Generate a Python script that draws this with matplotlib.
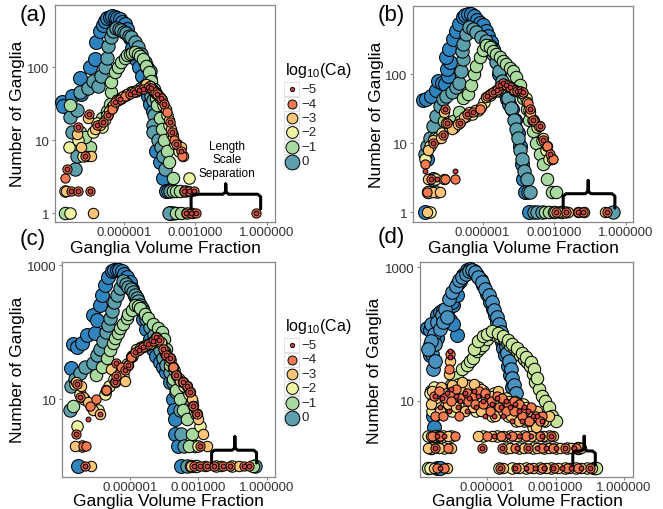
import matplotlib.pyplot as plt
from matplotlib.patches import Rectangle

plt.rcParams['font.family'] = ['Liberation Sans', 'DejaVu Sans']
plt.rcParams['mathtext.fontset'] = 'custom'
plt.rcParams['mathtext.rm'] = 'Liberation Sans'
plt.rcParams['mathtext.it'] = 'Liberation Sans:italic'

# legend entries, log10(Ca)
ca_levels = [-5, -4, -3, -2, -1, 0]
ca_labels = ['\u22125', '\u22124', '\u22123', '\u22122', '\u22121', '0']

x_ticks = [1e-6, 1e-3, 1.0]
x_tick_labels = ['0.000001', '0.001000', '1.000000']

# every series: (log10 ganglia volume fraction, number of ganglia)
# ---- panel (a)
a_dblue = [(-8.6, 33), (-8.53, 29), (-8.18, 40), (-7.77, 43), (-7.49, 55), (-7.84, 72), (-7.42, 100),
           (-7.21, 130), (-7.14, 220), (-7.0, 315), (-6.88, 380), (-6.79, 430), (-6.68, 470), (-6.58, 490),
           (-6.48, 495), (-6.38, 490), (-6.27, 475), (-6.17, 455), (-6.06, 420), (-5.96, 390), (-5.85, 330),
           (-5.75, 250), (-5.65, 180), (-5.5, 130), (-5.35, 100), (-5.22, 75), (-5.1, 55), (-4.98, 40),
           (-4.9, 31), (-4.78, 25), (-4.64, 20), (-4.5, 16), (-4.6, 12), (-4.64, 7), (-4.5, 5), (-4.36, 3),
           (-4.22, 2), (-4.05, 1)]
a_teal = [(-8.04, 4), (-7.97, 6), (-8.18, 13), (-8.25, 21), (-7.97, 26), (-7.84, 45), (-7.49, 52),
          (-7.28, 65), (-7.07, 55), (-6.93, 76), (-6.8, 100), (-6.72, 135), (-6.65, 195), (-6.54, 255),
          (-6.45, 315), (-6.31, 340), (-6.2, 335), (-6.1, 320), (-6.0, 305), (-5.89, 290), (-5.78, 270),
          (-5.68, 255), (-5.54, 218), (-5.4, 186), (-5.27, 151), (-5.13, 116), (-5.02, 100), (-4.92, 89),
          (-4.88, 70), (-4.82, 50), (-4.85, 40), (-4.78, 35), (-4.72, 22), (-4.79, 16), (-4.79, 13),
          (-4.57, 10), (-4.43, 8), (-4.36, 6), (-4.29, 4), (-4.15, 2), (-4.05, 2), (-3.95, 1), (-4.1, 1)]
a_green = [(-8.46, 1), (-8.25, 30), (-7.84, 13), (-7.42, 8), (-7.6, 11), (-6.9, 20), (-6.72, 25),
           (-6.58, 31), (-6.52, 45), (-6.52, 62), (-6.38, 85), (-6.24, 100), (-6.1, 116), (-5.96, 135),
           (-5.85, 145), (-5.75, 150), (-5.64, 155), (-5.54, 160), (-5.4, 150), (-5.3, 140), (-5.2, 130),
           (-5.06, 105), (-4.95, 85), (-4.85, 65), (-4.75, 50), (-4.65, 38), (-4.6, 30), (-4.5, 20),
           (-4.4, 14), (-4.3, 10), (-4.2, 7), (-4.1, 5), (-3.95, 3), (-3.95, 2), (-3.8, 2), (-3.65, 2),
           (-3.8, 1), (-3.6, 1)]
a_yellow = [(-8.25, 1), (-8.46, 2), (-8.3, 8), (-7.9, 10), (-7.7, 6), (-7.3, 13), (-7.1, 17), (-6.9, 15),
            (-6.7, 22), (-6.5, 28), (-6.3, 35), (-6.1, 38), (-5.9, 42), (-5.7, 45), (-5.5, 47), (-5.3, 52),
            (-5.1, 55), (-4.95, 56), (-4.8, 50), (-4.65, 44), (-4.5, 38), (-4.35, 30), (-4.2, 22), (-4.1, 16),
            (-4.0, 12), (-3.85, 9), (-3.7, 7), (-3.25, 3), (-3.45, 2), (-3.35, 1)]
a_lorange = [(-7.28, 1), (-8.4, 2), (-7.95, 12), (-7.8, 8), (-7.55, 6), (-7.35, 6), (-7.5, 20), (-7.2, 14),
             (-7.0, 16), (-6.8, 19), (-6.6, 25), (-6.45, 30), (-6.25, 36), (-6.05, 40), (-5.85, 43),
             (-5.65, 45), (-5.45, 48), (-5.25, 52), (-5.05, 58), (-4.9, 55), (-4.72, 47), (-4.55, 42),
             (-4.4, 35), (-4.25, 27), (-4.12, 19), (-4.02, 14), (-3.92, 11), (-3.75, 9), (-3.6, 8),
             (-3.5, 6), (-3.3, 2), (-3.15, 1)]
a_orange = [(-8.39, 4), (-8.46, 3), (-8.2, 2), (-7.9, 2), (-7.4, 2), (-7.9, 15), (-7.6, 6), (-7.45, 23),
            (-7.1, 16), (-6.85, 18), (-6.65, 22), (-6.5, 27), (-6.35, 33), (-6.15, 37), (-5.95, 40),
            (-5.75, 43), (-5.55, 46), (-5.35, 49), (-5.2, 50), (-5.0, 54), (-4.85, 52), (-4.7, 46),
            (-4.6, 43), (-4.45, 38), (-4.3, 31), (-4.18, 24), (-4.08, 18), (-3.97, 13), (-3.88, 10),
            (-3.8, 9), (-3.62, 7), (-3.55, 6), (-3.46, 2), (-3.25, 2), (-3.04, 2), (-3.39, 1), (-3.18, 1),
            (-2.97, 1), (-0.47, 1)]
a_red = [(-8.39, 4), (-8.2, 2), (-7.9, 2), (-7.4, 2), (-7.9, 15), (-7.45, 23), (-7.6, 6), (-7.1, 16),
         (-6.85, 18), (-6.65, 22), (-6.35, 33), (-6.15, 37), (-5.75, 43), (-5.55, 46), (-5.35, 49),
         (-5.2, 50), (-5.0, 54), (-4.85, 52), (-4.6, 43), (-4.45, 38), (-4.3, 31), (-4.08, 18), (-3.97, 13),
         (-3.8, 9), (-3.62, 7), (-3.46, 2), (-3.25, 2), (-3.04, 2), (-3.39, 1), (-3.18, 1), (-2.97, 1),
         (-0.47, 1)]

# ---- panel (b)
b_dblue = [(-8.42, 1), (-8.35, 6), (-8.07, 3), (-8.5, 42), (-8.36, 44), (-8.15, 49), (-7.95, 60),
           (-7.87, 81), (-7.7, 75), (-7.59, 72), (-7.45, 95), (-7.5, 120), (-7.38, 149), (-7.52, 177),
           (-7.4, 230), (-7.24, 325), (-7.1, 420), (-6.97, 535), (-6.83, 670), (-6.72, 720), (-6.62, 745),
           (-6.5, 740), (-6.38, 700), (-6.25, 620), (-6.1, 560), (-5.97, 510), (-5.86, 430), (-5.76, 363),
           (-5.65, 290), (-5.55, 233), (-5.48, 190), (-5.41, 149), (-5.3, 100), (-5.2, 69), (-5.1, 55),
           (-4.99, 44), (-4.88, 37), (-4.78, 31), (-4.64, 22), (-4.5, 14), (-4.43, 9), (-4.36, 5),
           (-4.29, 3), (-4.22, 2), (-4.05, 1)]
b_teal = [(-8.42, 7), (-8.35, 9), (-8.21, 12), (-8.07, 18), (-7.95, 25), (-7.8, 35), (-7.65, 44),
          (-7.52, 49), (-7.3, 55), (-7.1, 65), (-6.97, 76), (-6.9, 113), (-6.83, 166), (-6.85, 220),
          (-6.83, 275), (-6.7, 380), (-6.55, 480), (-6.4, 450), (-6.27, 405), (-6.05, 350), (-5.85, 309),
          (-5.7, 260), (-5.55, 200), (-5.42, 150), (-5.3, 110), (-5.18, 80), (-5.05, 60), (-4.92, 45),
          (-4.8, 32), (-4.7, 22), (-4.6, 16), (-4.5, 12), (-4.42, 8), (-4.35, 6), (-4.25, 4), (-4.15, 3),
          (-4.1, 2), (-4.0, 2), (-3.85, 1), (-3.7, 1), (-3.5, 1), (-0.55, 1)]
b_green = [(-8.3, 2), (-8.0, 12), (-7.6, 21), (-7.23, 21), (-7.0, 28), (-6.83, 46), (-6.62, 52),
           (-6.48, 69), (-6.34, 101), (-6.27, 134), (-6.13, 177), (-5.98, 225), (-5.85, 262), (-5.7, 245),
           (-5.57, 220), (-5.43, 200), (-5.29, 177), (-5.15, 158), (-5.01, 141), (-4.87, 125), (-4.73, 113),
           (-4.58, 90), (-4.43, 69), (-4.3, 45), (-4.15, 31), (-4.05, 22), (-3.9, 15), (-3.75, 10),
           (-3.6, 7), (-3.45, 5), (-3.3, 3), (-3.1, 2), (-2.9, 2), (-3.4, 1), (-3.2, 1), (-3.0, 1),
           (-2.7, 1)]
b_yellow = [(-8.21, 1), (-8.4, 6), (-8.2, 9), (-7.9, 12), (-7.7, 14), (-7.4, 18), (-7.2, 17), (-6.95, 21),
            (-6.7, 25), (-6.45, 27), (-6.2, 30), (-5.95, 40), (-5.7, 50), (-5.45, 58), (-5.2, 65),
            (-4.95, 68), (-4.7, 60), (-4.45, 56), (-4.2, 45), (-4.05, 30), (-3.9, 22), (-3.7, 17),
            (-3.5, 11), (-3.35, 8), (-3.2, 6), (-8.0, 3), (-7.9, 2), (-2.95, 1), (-2.55, 1)]
b_lorange = [(-8.35, 1), (-8.3, 3), (-8.1, 2), (-7.8, 2), (-7.6, 3), (-8.3, 8), (-8.1, 11), (-7.75, 12),
             (-7.55, 20), (-7.6, 28), (-7.3, 16), (-7.05, 19), (-6.8, 24), (-6.55, 28), (-6.3, 30),
             (-6.05, 34), (-5.85, 47), (-5.6, 53), (-5.35, 62), (-5.1, 72), (-4.85, 66), (-4.6, 58),
             (-4.35, 54), (-4.15, 40), (-4.0, 28), (-3.85, 21), (-3.65, 18), (-3.45, 12), (-3.3, 9),
             (-3.1, 6), (-2.85, 1), (-2.4, 1), (-2.0, 1), (-1.75, 1), (-0.85, 1)]
b_orange = [(-8.42, 5), (-8.15, 3), (-7.58, 3), (-7.16, 3), (-8.35, 2), (-8.07, 10), (-7.65, 13),
            (-7.51, 20), (-7.58, 31), (-6.95, 20), (-6.67, 27), (-6.39, 28), (-6.11, 31), (-5.83, 49),
            (-5.7, 52), (-5.55, 55), (-5.4, 60), (-5.27, 69), (-5.13, 76), (-5.0, 70), (-4.85, 65),
            (-4.7, 60), (-4.57, 58), (-4.43, 57), (-4.29, 55), (-4.1, 38), (-4.01, 31), (-3.87, 22),
            (-3.59, 18), (-3.45, 11), (-3.31, 9), (-3.17, 7), (-3.03, 6), (-2.9, 1), (-2.48, 1),
            (-1.99, 1), (-1.78, 1), (-0.8, 1)]
b_red = [(-8.42, 4), (-7.16, 4), (-8.15, 3), (-7.9, 3), (-8.07, 10), (-7.65, 13), (-7.51, 20), (-7.58, 31),
         (-6.95, 20), (-6.67, 27), (-6.39, 28), (-5.83, 49), (-5.55, 55), (-5.4, 60), (-5.27, 69),
         (-5.13, 76), (-5.0, 70), (-4.85, 65), (-4.57, 58), (-4.43, 57), (-4.29, 55), (-4.01, 31),
         (-3.87, 22), (-3.59, 18), (-3.45, 11), (-3.17, 7), (-2.9, 1), (-2.48, 1), (-1.99, 1), (-1.78, 1),
         (-0.8, 1)]

# ---- panel (c)
c_dblue = [(-8.27, 1), (-8.56, 29), (-8.49, 68), (-8.33, 61), (-8.11, 69), (-7.89, 91), (-7.52, 98),
           (-7.6, 182), (-7.45, 152), (-7.3, 260), (-7.23, 360), (-7.08, 510), (-6.94, 680), (-6.79, 810),
           (-6.68, 840), (-6.57, 850), (-6.46, 840), (-6.35, 810), (-6.24, 750), (-6.13, 680), (-6.0, 560),
           (-5.88, 450), (-5.76, 350), (-5.66, 280), (-5.56, 224), (-5.42, 160), (-5.27, 113), (-5.12, 80),
           (-4.98, 57), (-4.83, 45), (-4.68, 36), (-4.54, 30), (-4.39, 26), (-4.25, 18), (-4.1, 10),
           (-4.06, 7), (-4.02, 5), (-4.0, 3), (-3.9, 2), (-3.73, 1)]
c_teal = [(-8.64, 7), (-8.56, 16), (-8.4, 20), (-8.2, 25), (-7.95, 30), (-7.6, 35), (-7.45, 46), (-7.3, 57),
          (-7.16, 73), (-7.05, 100), (-6.94, 130), (-6.87, 165), (-6.79, 205), (-6.68, 280), (-6.57, 360),
          (-6.42, 455), (-6.28, 575), (-6.17, 530), (-6.06, 480), (-5.95, 440), (-5.84, 405), (-5.76, 360),
          (-5.69, 325), (-5.62, 290), (-5.55, 258), (-5.47, 230), (-5.4, 205), (-5.27, 160), (-5.1, 120),
          (-4.95, 90), (-4.83, 72), (-4.68, 55), (-4.54, 41), (-4.4, 32), (-4.24, 26), (-4.1, 18),
          (-3.95, 13), (-3.8, 7), (-3.73, 3), (-3.6, 2), (-3.5, 1), (-0.5, 1)]
c_green = [(-8.5, 8), (-7.46, 23), (-7.2, 30), (-7.01, 41), (-6.85, 55), (-6.72, 69), (-6.64, 81),
           (-6.5, 97), (-6.42, 115), (-6.28, 135), (-6.13, 162), (-6.06, 191), (-5.91, 214), (-5.77, 256),
           (-5.65, 245), (-5.55, 229), (-5.33, 191), (-5.18, 162), (-4.96, 135), (-4.74, 115), (-4.59, 102),
           (-4.5, 80), (-4.39, 57), (-4.24, 32), (-4.1, 20), (-3.95, 14), (-3.8, 10), (-3.65, 7),
           (-3.51, 5), (-3.29, 3), (-3.15, 2), (-3.4, 2), (-3.3, 1), (-3.1, 1), (-0.6, 1)]
c_yellow = [(-8.4, 17), (-8.2, 12), (-8.0, 10), (-7.7, 8), (-7.4, 7), (-7.1, 12), (-6.9, 16), (-6.7, 20),
            (-6.5, 26), (-6.3, 22), (-6.1, 34), (-5.9, 45), (-5.7, 55), (-5.5, 60), (-5.3, 64), (-5.05, 70),
            (-4.85, 80), (-4.65, 70), (-4.45, 50), (-4.25, 38), (-4.05, 27), (-3.85, 20), (-3.6, 16),
            (-3.4, 12), (-3.25, 9), (-3.1, 6), (-2.9, 4), (-8.3, 4), (-8.1, 2), (-3.0, 2), (-2.2, 1),
            (-1.5, 1)]
c_lorange = [(-8.34, 18), (-8.12, 16), (-8.05, 11), (-7.83, 9), (-7.6, 7), (-7.3, 6), (-7.02, 14),
             (-6.8, 28), (-6.66, 18), (-6.45, 24), (-6.22, 19), (-6.07, 32), (-5.93, 43), (-5.71, 57),
             (-5.55, 58), (-5.41, 61), (-5.25, 65), (-5.12, 68), (-4.95, 78), (-4.83, 85), (-4.61, 72),
             (-4.5, 55), (-4.39, 46), (-4.24, 41), (-4.1, 30), (-3.95, 23), (-3.8, 19), (-3.66, 18),
             (-3.51, 16), (-3.36, 13), (-3.29, 10), (-3.22, 8), (-3.07, 6), (-3.0, 5), (-2.78, 3),
             (-2.63, 2), (-8.4, 2), (-7.68, 1), (-3.3, 1), (-2.7, 1), (-2.0, 1), (-1.2, 1)]
c_orange = [(-8.2, 11), (-8.3, 17), (-7.76, 8), (-7.5, 10), (-7.02, 14), (-6.66, 18), (-6.59, 22),
            (-6.6, 35), (-6.4, 30), (-6.2, 27), (-6.07, 32), (-5.93, 43), (-5.75, 50), (-5.6, 55),
            (-5.41, 61), (-5.2, 66), (-5.0, 74), (-4.83, 85), (-4.7, 78), (-4.54, 57), (-4.39, 46),
            (-4.24, 41), (-4.1, 30), (-3.95, 23), (-3.66, 18), (-3.51, 16), (-3.36, 13), (-3.22, 8),
            (-3.07, 6), (-2.9, 2), (-8.35, 3), (-8.05, 2), (-7.9, 2), (-7.98, 1), (-3.2, 1), (-2.9, 1),
            (-2.6, 1), (-2.3, 1), (-1.9, 1), (-1.6, 1), (-1.0, 1), (-0.75, 1)]
c_red = [(-8.2, 11), (-8.3, 17), (-7.83, 5), (-7.32, 6), (-8.35, 3), (-7.98, 1), (-6.66, 18), (-6.59, 22),
         (-6.6, 35), (-6.2, 27), (-6.07, 32), (-5.75, 50), (-5.6, 55), (-5.41, 61), (-5.2, 66), (-5.0, 74),
         (-4.83, 85), (-4.7, 78), (-4.54, 57), (-4.39, 46), (-4.24, 41), (-3.95, 23), (-3.66, 18),
         (-3.51, 16), (-3.36, 13), (-3.22, 8), (-3.07, 6), (-2.9, 2), (-3.2, 1), (-2.9, 1), (-2.6, 1),
         (-2.3, 1), (-1.9, 1), (-1.6, 1), (-1.0, 1), (-0.75, 1)]

# ---- panel (d)
d_dblue = [(-8.68, 123), (-8.53, 115), (-8.53, 69), (-8.53, 49), (-8.38, 78), (-8.24, 87), (-8.24, 195),
           (-8.09, 216), (-7.94, 232), (-7.79, 216), (-7.65, 162), (-7.5, 275), (-7.57, 307), (-7.43, 435),
           (-7.35, 389), (-7.28, 575), (-7.21, 617), (-7.06, 770), (-6.91, 900), (-6.76, 930), (-6.6, 880),
           (-6.47, 770), (-6.3, 650), (-6.18, 545), (-6.03, 400), (-5.88, 307), (-5.77, 240), (-5.66, 193),
           (-5.58, 150), (-5.51, 122), (-5.44, 95), (-5.37, 77), (-5.3, 62), (-5.22, 49), (-5.1, 33),
           (-5.0, 24), (-4.92, 16), (-4.85, 11), (-8.38, 6), (-8.35, 4), (-8.2, 1), (-8.1, 1),
           (-7.35, 98), (-7.5, 140)]
d_blue = [(-8.5, 140), (-8.35, 100), (-8.2, 150), (-8.0, 190), (-7.85, 240), (-7.7, 330), (-7.55, 420),
          (-7.4, 520), (-7.25, 640), (-7.1, 720), (-6.95, 800), (-6.82, 880), (-6.68, 900), (-6.55, 840),
          (-6.4, 720), (-6.25, 600), (-6.1, 480), (-5.95, 380), (-5.82, 300), (-5.7, 230), (-5.6, 180),
          (-5.5, 140), (-5.4, 108), (-5.3, 85), (-5.2, 66), (-5.12, 52), (-5.05, 40), (-4.97, 30),
          (-4.9, 22), (-4.82, 17), (-4.75, 13), (-8.45, 50), (-8.3, 70), (-8.1, 120), (-7.95, 150),
          (-7.8, 180), (-8.4, 30), (-8.3, 40), (-8.5, 80), (-8.6, 60)]
d_green = [(-7.9, 14), (-7.6, 17), (-7.35, 23), (-7.1, 30), (-6.9, 35), (-6.76, 39), (-6.62, 44),
           (-6.47, 55), (-6.32, 62), (-6.18, 69), (-6.03, 85), (-5.88, 105), (-5.75, 100), (-5.6, 95),
           (-5.45, 90), (-5.29, 85), (-5.15, 75), (-5.0, 69), (-4.85, 62), (-4.71, 55), (-4.56, 48),
           (-4.41, 43), (-4.27, 38), (-4.12, 33), (-4.0, 25), (-3.9, 19), (-3.75, 15), (-3.6, 12),
           (-3.45, 10), (-3.3, 8), (-3.15, 6), (-3.0, 5), (-6.6, 60), (-6.4, 80), (-6.2, 95), (-6.0, 100),
           (-5.8, 110), (-5.55, 105), (-5.3, 95), (-5.1, 82), (-4.9, 70), (-4.7, 62), (-4.5, 52),
           (-4.3, 45), (-4.1, 38), (-3.95, 30), (-3.8, 22), (-8.6, 1), (-8.5, 2), (-8.2, 3), (-1.3, 1),
           (-1.2, 1), (-2.0, 2), (-8.5, 14), (-8.4, 12)]
d_yellow = [(-8.55, 13), (-8.35, 16), (-8.15, 12), (-7.95, 15), (-7.7, 11), (-7.45, 14), (-7.2, 16),
            (-6.95, 12), (-6.7, 15), (-6.45, 11), (-6.2, 14), (-5.95, 12), (-5.7, 13), (-5.45, 10),
            (-5.2, 11), (-4.95, 9), (-4.7, 8), (-4.45, 9), (-4.2, 7), (-3.95, 7), (-3.7, 6), (-3.45, 5),
            (-8.45, 7), (-8.2, 9), (-7.85, 8), (-7.55, 7), (-7.1, 8), (-6.8, 9), (-6.5, 7), (-6.15, 8),
            (-5.8, 6), (-5.5, 7), (-5.1, 6), (-4.75, 5), (-4.4, 5), (-4.0, 4), (-8.6, 3), (-8.35, 3),
            (-7.95, 3), (-7.6, 3), (-6.2, 3), (-5.6, 3), (-5.0, 3), (-4.4, 3), (-3.8, 3), (-3.3, 3),
            (-8.45, 2), (-7.9, 2), (-5.2, 2), (-4.6, 2), (-4.0, 2), (-3.5, 2), (-3.0, 2), (-2.5, 2),
            (-2.0, 2), (-8.55, 1), (-5.5, 1), (-4.9, 1), (-4.3, 1), (-3.7, 1), (-3.2, 1), (-2.6, 1),
            (-2.1, 1), (-1.6, 1), (-7.3, 18), (-6.9, 17), (-6.4, 16)]
d_lorange = [(-8.45, 14), (-8.25, 11), (-8.05, 16), (-7.8, 13), (-7.55, 17), (-7.3, 12), (-7.05, 14),
             (-6.8, 17), (-6.55, 13), (-6.3, 15), (-6.05, 11), (-5.8, 12), (-5.55, 14), (-5.3, 9),
             (-5.05, 10), (-4.8, 10), (-4.55, 8), (-4.3, 8), (-4.05, 6), (-3.8, 7), (-3.55, 5), (-3.3, 6),
             (-8.5, 9), (-8.1, 7), (-7.75, 9), (-7.4, 8), (-7.0, 7), (-6.65, 8), (-6.3, 7), (-5.95, 9),
             (-5.65, 6), (-5.3, 7), (-4.95, 6), (-4.6, 5), (-4.2, 5), (-3.85, 4), (-7.65, 39), (-7.7, 25),
             (-8.5, 3), (-8.15, 3), (-7.75, 3), (-6.4, 3), (-5.8, 3), (-5.3, 3), (-4.7, 3), (-4.1, 3),
             (-3.55, 3), (-3.1, 3), (-8.6, 2), (-8.15, 2), (-7.6, 2), (-5.0, 2), (-4.4, 2), (-3.8, 2),
             (-3.3, 2), (-2.8, 2), (-2.3, 2), (-1.9, 2), (-8.35, 1), (-7.8, 1), (-5.3, 1), (-4.6, 1),
             (-4.0, 1), (-3.4, 1), (-2.9, 1), (-2.4, 1), (-1.9, 1), (-1.4, 1), (-7.1, 19), (-6.6, 18)]
d_orange = [(-8.35, 12), (-8.15, 14), (-7.9, 11), (-7.65, 13), (-7.4, 15), (-7.15, 11), (-6.9, 13),
            (-6.6, 12), (-6.35, 14), (-6.1, 13), (-5.85, 10), (-5.6, 12), (-5.35, 11), (-5.1, 9),
            (-4.85, 10), (-4.6, 9), (-4.35, 7), (-4.1, 8), (-3.85, 6), (-3.6, 6), (-8.3, 6), (-7.95, 6),
            (-7.6, 10), (-7.25, 6), (-6.85, 10), (-6.55, 9), (-6.2, 9), (-5.9, 7), (-5.5, 8), (-5.2, 7),
            (-4.85, 7), (-4.5, 6), (-4.15, 5), (-3.7, 5), (-7.65, 50), (-7.68, 30), (-8.45, 3), (-8.1, 3),
            (-7.45, 3), (-6.0, 3), (-5.4, 3), (-4.9, 3), (-4.3, 3), (-3.7, 3), (-3.2, 3), (-8.3, 2),
            (-7.75, 2), (-6.25, 2), (-5.37, 2), (-4.8, 2), (-4.2, 2), (-3.6, 2), (-3.1, 2), (-2.6, 2),
            (-2.1, 2), (-8.2, 1), (-7.9, 1), (-5.45, 1), (-4.75, 1), (-4.15, 1), (-3.6, 1), (-3.05, 1),
            (-2.5, 1), (-2.0, 1), (-1.5, 1)]
d_red = [(-8.3, 12), (-8.0, 11), (-7.8, 13), (-7.6, 15), (-7.4, 12), (-7.2, 10), (-7.0, 13), (-6.8, 11),
         (-6.6, 14), (-6.4, 12), (-6.2, 10), (-6.0, 12), (-5.8, 9), (-5.6, 11), (-5.4, 8), (-5.2, 10),
         (-5.0, 8), (-4.8, 9), (-4.6, 7), (-4.4, 8), (-4.2, 7), (-4.0, 6), (-3.8, 6), (-3.6, 5),
         (-8.1, 8), (-7.7, 7), (-7.3, 8), (-6.9, 7), (-6.5, 8), (-6.1, 6), (-5.7, 6), (-5.3, 6), (-4.9, 5),
         (-4.5, 5), (-7.65, 55), (-7.65, 45), (-8.2, 3), (-7.9, 3), (-5.7, 3), (-5.1, 3), (-4.6, 3),
         (-4.1, 3), (-3.6, 3), (-3.2, 3), (-8.3, 2), (-6.25, 2), (-5.37, 2), (-4.7, 2), (-4.2, 2),
         (-3.8, 2), (-3.4, 2), (-3.0, 2), (-2.6, 2), (-2.2, 2), (-8.1, 1), (-5.45, 1), (-4.8, 1),
         (-4.3, 1), (-3.9, 1), (-3.5, 1), (-3.1, 1), (-2.7, 1), (-2.3, 1), (-1.9, 1), (-1.5, 1)]

# marker style per log10(Ca): fill colour, marker area
style = {
    0.5: ('#2F84BD', 100),
    0.3: ('#4A93C0', 96),
    0: ('#5E9FAC', 92),
    -1: ('#A8D99E', 80),
    -1.5: ('#C6E59B', 80),
    -2: ('#EEF4A2', 68),
    -3: ('#FDC677', 56),
    -4: ('#F47B4F', 44),
    -5: ('#D43D45', 12),
}
legend_style = {-5: ('#D43D45', 9), -4: ('#F47B4F', 42), -3: ('#FDC677', 60),
                -2: ('#EEF4A2', 72), -1: ('#A8D99E', 88), 0: ('#5E9FAC', 112)}

W, H = 663, 510
fig = plt.figure(figsize=(W / 100, H / 100), dpi=100)


def px_axes(l, t, r, b):
    return fig.add_axes([l / W, 1 - b / H, (r - l) / W, (b - t) / H])


def ftext(x, y, s, **kw):
    fig.text(x / W, 1 - y / H, s, **kw)


def brace(ax, x0, x1, xc, yl, ye, yt):
    r, d = 0.12, 0.035
    xs = [x0, x0, x0 + r, xc - r, xc, xc, xc, xc + r, x1 - r, x1, x1]
    ys = [ye, yl - d, yl, yl, yl + d, yt, yl + d, yl, yl, yl - d, ye]
    ax.plot([10 ** v for v in xs], [10 ** v for v in ys], color='black', lw=2.2,
            solid_joinstyle='round', solid_capstyle='round', zorder=20, clip_on=False)


def panel(rect, xlim, ylim, yticks, series, br):
    ax = px_axes(*rect)
    for z, (pts, lev) in enumerate(series):
        col, s = style[lev]
        ax.scatter([10 ** p[0] for p in pts], [p[1] for p in pts], s=s, c=col,
                   edgecolors='black', linewidths=0.75, zorder=3 + z)
    ax.set_xscale('log')
    ax.set_yscale('log')
    ax.set_xlim(10 ** xlim[0], 10 ** xlim[1])
    ax.set_ylim(10 ** ylim[0], 10 ** ylim[1])
    ax.set_xticks(x_ticks)
    ax.set_xticklabels(x_tick_labels)
    ax.set_yticks(yticks)
    ax.set_yticklabels([str(v) for v in yticks])
    ax.minorticks_off()
    ax.tick_params(length=2.5, width=0.8, color='#888888', labelsize=9.5, labelcolor='#333333')
    ax.tick_params(axis='x', pad=0.5)
    ax.tick_params(axis='y', pad=1.5)
    for sp in ax.spines.values():
        sp.set_color('#888888')
        sp.set_linewidth(0.9)
    brace(ax, *br)
    return ax


ax_a = panel((55, 6, 275, 223), (-8.875, 0.33), (-0.12, 2.85), [1, 10, 100],
             [(a_dblue, 0.5), (a_teal, 0), (a_green, -1), (a_yellow, -2), (a_lorange, -3),
              (a_orange, -4), (a_red, -5)],
             (-3.18, -0.27, -1.73, 0.26, 0.06, 0.40))
ax_a.text(10 ** -1.67, 10 ** 0.74, 'Length\nScale\nSeparation', ha='center', va='center',
          fontsize=8.5, linespacing=1.15, zorder=21)

panel((413, 7, 633, 223), (-8.92, 0.31), (-0.14, 2.99), [1, 10, 100],
      [(b_dblue, 0.5), (b_teal, 0), (b_green, -1), (b_yellow, -2), (b_lorange, -3),
       (b_orange, -4), (b_red, -5)],
      (-2.62, -0.45, -1.57, 0.27, 0.06, 0.46))

panel((62, 263, 275, 478), (-8.97, 0.37), (-0.16, 3.05), [10, 1000],
      [(c_dblue, 0.5), (c_teal, 0), (c_green, -1), (c_yellow, -2), (c_lorange, -3),
       (c_orange, -4), (c_red, -5)],
      (-2.41, -0.44, -1.39, 0.24, 0.05, 0.44))

panel((420, 263, 633, 478), (-8.97, 0.41), (-0.14, 3.08), [10, 1000],
      [(d_dblue, 0.5), (d_blue, 0.3), (d_green, -1.5), (d_yellow, -2), (d_lorange, -3),
       (d_orange, -4), (d_red, -5)],
      (-2.24, -1.25, -1.74, 0.25, 0.04, 0.47))

# axis titles and panel tags
for cx, cy in [(165, 249), (523, 249), (168, 502), (527, 502)]:
    ftext(cx, cy, 'Ganglia Volume Fraction', ha='center', va='center', fontsize=12.5)
for cx, cy in [(18, 114), (376, 115), (18, 370), (375, 371)]:
    ftext(cx, cy, 'Number of Ganglia', ha='center', va='center', rotation=90, fontsize=12.5)
for cx, cy, tag in [(33, 15, '(a)'), (391, 15, '(b)'), (33, 240, '(c)'), (391, 238, '(d)')]:
    ftext(cx, cy, tag, ha='center', va='center', fontsize=16)

# legends drawn in figure pixels
lax = fig.add_axes([0, 0, 1, 1], zorder=30)
lax.set_xlim(0, W)
lax.set_ylim(H, 0)
lax.axis('off')
row_off = [19, 33.5, 48, 62, 77, 91.5]
for ty in (71, 327):
    lax.text(285, ty, r'log$_{10}$(Ca)', fontsize=11.5, va='center', ha='left')
    for i, lev in enumerate(ca_levels):
        yy = ty + row_off[i]
        lax.add_patch(Rectangle((284, yy - 7), 15, 14, facecolor='white', edgecolor='#DDDDDD', lw=0.6))
        col, s = legend_style[lev]
        lax.scatter([291.5], [yy], s=s, c=col, edgecolors='black', linewidths=0.7, zorder=5)
        lax.text(301, yy, ca_labels[i], fontsize=9.5, va='center', ha='left', color='#222222')

fig.savefig('out.png', dpi=100)
